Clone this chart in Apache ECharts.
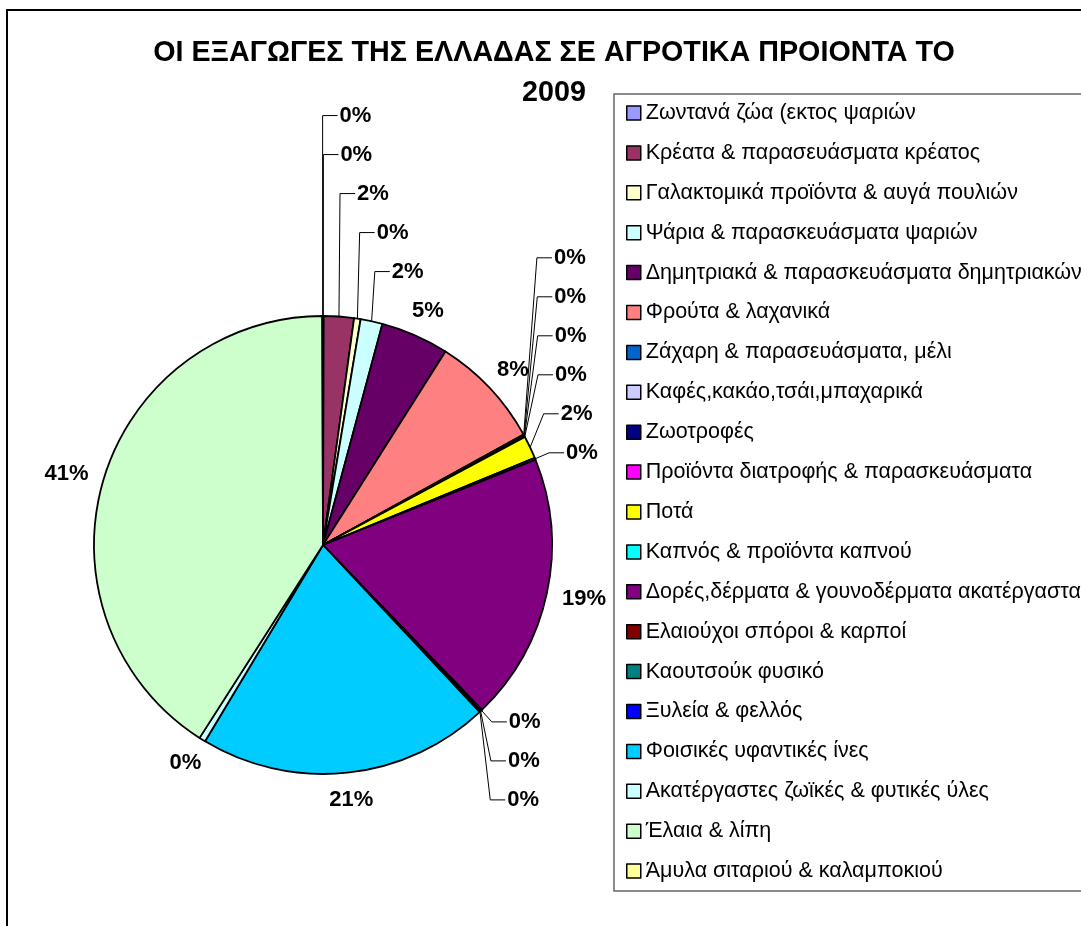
<!DOCTYPE html>
<html>
<head>
<meta charset="utf-8">
<script src="https://cdn.jsdelivr.net/npm/echarts@6/dist/echarts.min.js"></script>
<style>
  html, body { margin: 0; padding: 0; background: #fff; }
  #chart { width: 1081px; height: 926px; }
</style>
</head>
<body>
<div id="chart"></div>
<script>
// κατηγορίες (σειρά του υπομνήματος)
var categories = [
  "Ζωντανά ζώα (εκτος ψαριών",
  "Κρέατα & παρασευάσματα κρέατος",
  "Γαλακτομικά προϊόντα & αυγά πουλιών",
  "Ψάρια & παρασκευάσματα ψαριών",
  "Δημητριακά & παρασκευάσματα δημητριακών",
  "Φρούτα & λαχανικά",
  "Ζάχαρη & παρασευάσματα, μέλι",
  "Καφές,κακάο,τσάι,μπαχαρικά",
  "Ζωοτροφές",
  "Προϊόντα διατροφής & παρασκευάσματα",
  "Ποτά",
  "Καπνός & προϊόντα καπνού",
  "Δορές,δέρματα & γουνοδέρματα ακατέργαστα",
  "Ελαιούχοι σπόροι & καρποί",
  "Καουτσούκ φυσικό",
  "Ξυλεία & φελλός",
  "Φοισικές υφαντικές ίνες",
  "Ακατέργαστες ζωϊκές & φυτικές ύλες",
  "Έλαια & λίπη",
  "Άμυλα σιταριού & καλαμποκιού"
];
// μερίδιο (%) όπως διαβάζεται από τη γραφική
var shares = [0.05, 2.12, 0.46, 1.55, 4.80, 8.00, 0.06, 0.05, 0.05, 0.04,
              1.61, 0.14, 18.86, 0.10, 0.06, 0.06, 20.60, 0.45, 40.89, 0.05];
var colors = ["#9999FF", "#993366", "#FFFFCC", "#CCFFFF", "#660066", "#FF8080",
              "#0066CC", "#CCCCFF", "#000080", "#FF00FF", "#FFFF00", "#00FFFF",
              "#800080", "#800000", "#008080", "#0000FF", "#00CCFF", "#CCFFFF",
              "#CCFFCC", "#FFFF99"];

var font = "Liberation Sans, Arial, sans-serif";
var CX = 323, CY = 545, R = 229;
var LABEL_SIZE = 22;
var STEP = 39;   // απόσταση ετικετών που στοιβάζονται
var GAP = 16;    // απόσταση ετικέτας από την περιφέρεια

// θέσεις ετικετών σε στυλ Excel: μεγάλα κομμάτια δίπλα στο τόξο,
// γειτονικά μικρά κομμάτια στοιβάζονται με οδηγό γραμμή
function buildLabelLayout() {
  var total = shares.reduce(function (a, b) { return a + b; }, 0);
  var ctx = document.createElement("canvas").getContext("2d");
  ctx.font = "bold " + LABEL_SIZE + "px " + font;
  var acc = 0;
  var items = shares.map(function (v, i) {
    var mid = (acc + v / 2) / total * 360;
    acc += v;
    var rad = mid * Math.PI / 180;
    var ux = Math.sin(rad), uy = -Math.cos(rad);
    var pct = v / total * 100;
    return {
      i: i, ang: mid > 180 ? mid - 360 : mid, ux: ux, uy: uy,
      ax: CX + R * ux, ay: CY + R * uy,
      w: ctx.measureText(Math.round(pct) + "%").width,
      small: pct < 4
    };
  });

  // ομάδες γειτονικών μικρών κομματιών
  var smalls = items.filter(function (d) { return d.small; })
    .sort(function (a, b) { return a.ang - b.ang; });
  var groups = [];
  smalls.forEach(function (d) {
    var g = groups[groups.length - 1];
    if (g && d.ang - g[g.length - 1].ang < 15) g.push(d); else groups.push([d]);
  });

  var out = [], placed = [];
  function box(x0, x1, y) { return { x0: x0 - 4, x1: x1 + 4, y0: y - STEP / 2, y1: y + STEP / 2 }; }

  // ετικέτες χωρίς γραμμή
  items.forEach(function (d) {
    var single = !d.small || groups.some(function (g) { return g.length === 1 && g[0] === d; });
    if (!single) return;
    var x = CX + d.ux * (R + GAP) + d.ux * d.w / 2;
    var y = CY + d.uy * (R + GAP) + d.uy * LABEL_SIZE / 2;
    out[d.i] = { x: x, y: y, align: "center", line: false };
    placed.push(box(x - d.w / 2, x + d.w / 2, y));
  });

  // στοίβες με οδηγό γραμμή
  groups.forEach(function (g) {
    if (g.length < 2) return;
    var up = g[0].ay + g[g.length - 1].ay < 2 * CY;
    var sumX = g.reduce(function (s, d) { return s + d.ux; }, 0);
    var dir = sumX >= 0 ? 1 : -1;
    var order = up ? g.slice().reverse() : g;
    var prev = null;
    order.forEach(function (d) {
      var bx = d.ax + 15 * d.ux;
      var tx = bx + 17 * dir;
      var x0 = dir > 0 ? tx : tx - d.w, x1 = x0 + d.w;
      var y = CY + d.uy * (R + GAP);
      if (prev !== null) y = up ? Math.min(y, prev - STEP) : Math.max(y, prev + STEP);
      var moved = true;
      while (moved) {
        moved = false;
        placed.forEach(function (b) {
          if (x1 + 4 > b.x0 && x0 - 4 < b.x1 && y + STEP / 2 > b.y0 && y - STEP / 2 < b.y1) {
            y = up ? b.y0 - STEP / 2 : b.y1 + STEP / 2;
            moved = true;
          }
        });
      }
      placed.push(box(x0, x1, y));
      prev = y;
      out[d.i] = {
        x: tx, y: y, align: dir > 0 ? "left" : "right", line: true,
        points: [[d.ax, d.ay], [bx, y], [tx - 2 * dir, y]]
      };
    });
  });
  return out;
}

var labelPos = buildLabelLayout();

var pieData = categories.map(function (name, i) {
  return {
    name: name,
    value: shares[i],
    itemStyle: { color: colors[i] },
    labelLine: { show: labelPos[i].line }
  };
});

var chart = echarts.init(document.getElementById("chart"));
chart.setOption({
  backgroundColor: "#fff",
  animation: false,
  title: {
    text: "ΟΙ ΕΞΑΓΩΓΕΣ ΤΗΣ ΕΛΛΑΔΑΣ ΣΕ ΑΓΡΟΤΙΚΑ ΠΡΟΙΟΝΤΑ ΤΟ\n2009",
    left: 549,
    top: 28,
    textAlign: "center",
    textStyle: {
      fontFamily: font,
      fontSize: 28.7,
      fontWeight: "bold",
      color: "#000",
      lineHeight: 40
    }
  },
  legend: {
    orient: "vertical",
    left: 614,
    top: 94,
    padding: [8, 12, 9, 12],
    itemWidth: 14,
    itemHeight: 14,
    itemGap: 17.9,
    icon: "rect",
    borderColor: "#666",
    borderWidth: 1.5,
    backgroundColor: "#fff",
    selectedMode: false,
    itemStyle: { borderColor: "#000", borderWidth: 1.5 },
    textStyle: { fontFamily: font, fontSize: 21.5, lineHeight: 22, color: "#000" },
    data: categories
  },
  graphic: [{
    type: "rect",
    z: -10,
    shape: { x: 7, y: 10, width: 1200, height: 1000 },
    style: { fill: "#fff", stroke: "#000", lineWidth: 2 }
  }],
  series: [{
    type: "pie",
    center: [CX, CY],
    radius: R,
    startAngle: 90,
    clockwise: true,
    avoidLabelOverlap: false,
    itemStyle: { borderColor: "#000", borderWidth: 1.8 },
    label: {
      position: "outside",
      fontFamily: font,
      fontSize: LABEL_SIZE,
      fontWeight: "bold",
      color: "#000",
      formatter: function (p) { return Math.round(p.percent) + "%"; }
    },
    labelLine: {
      length: 10,
      length2: 10,
      lineStyle: { color: "#000", width: 1 }
    },
    labelLayout: function (params) {
      var p = labelPos[params.dataIndex];
      var res = { x: p.x, y: p.y, align: p.align, verticalAlign: "middle" };
      if (p.line) res.labelLinePoints = p.points;
      return res;
    },
    emphasis: { disabled: true },
    data: pieData
  }]
});
</script>
</body>
</html>
